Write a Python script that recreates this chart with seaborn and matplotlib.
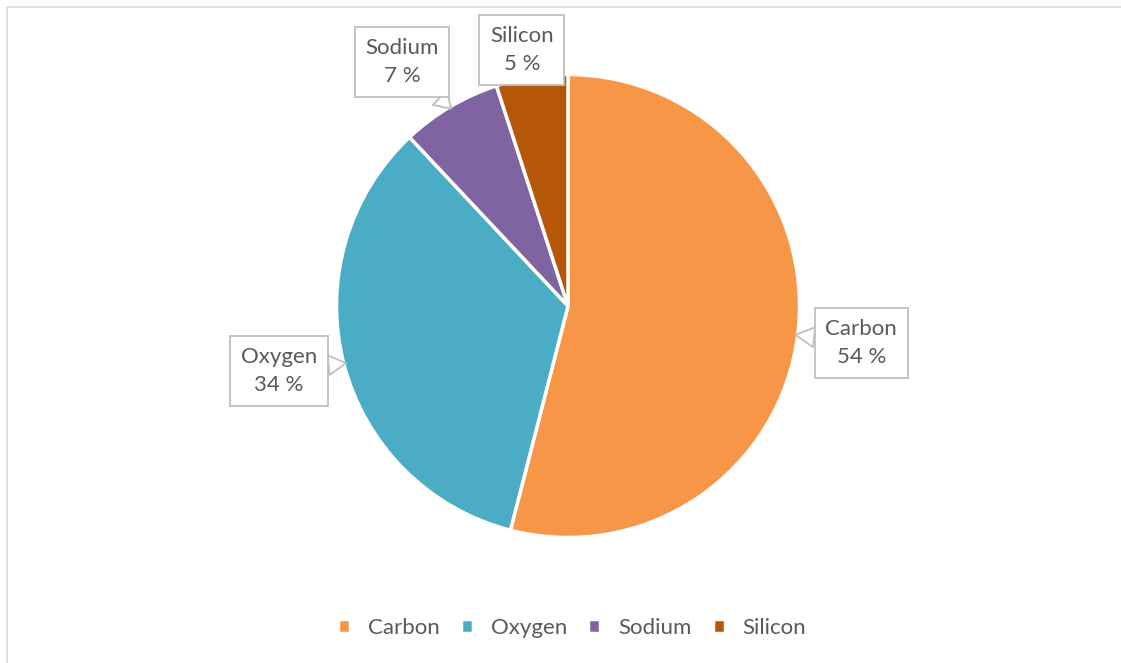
import numpy as np
import matplotlib
matplotlib.use("Agg")
import matplotlib.pyplot as plt
import seaborn as sns
from matplotlib.lines import Line2D

# data
elements = ["Carbon", "Oxygen", "Sodium", "Silicon"]
shares = [54, 34, 7, 5]
colors = ["#F79646", "#4BACC6", "#8064A2", "#B65708"]

# label box centres, in pie-radius units
label_xy = [(1.267, -0.160), (-1.248, -0.281), (-0.717, 1.054), (-0.199, 1.106)]

sns.set_theme(style="white")
plt.rcParams["font.family"] = ["Lato", "DejaVu Sans"]
text_col = "#595959"

W, H = 1121, 663
fig = plt.figure(figsize=(W / 100, H / 100), dpi=100)
ax = fig.add_axes([0, 0, 1, 1])
cx, cy, r = 568, 306, 231.5

wedges, _ = ax.pie(shares, colors=colors, startangle=90, counterclock=False,
                   radius=1, center=(0, 0), frame=False,
                   wedgeprops=dict(edgecolor="white", linewidth=2.5))
ax.set_xlim(-cx / r, (W - cx) / r)
ax.set_ylim(-(H - cy) / r, cy / r)
ax.axis("off")

for w, name, val, (lx, ly) in zip(wedges, elements, shares, label_xy):
    mid = np.deg2rad((w.theta1 + w.theta2) / 2)
    tip = (0.99 * np.cos(mid), 0.99 * np.sin(mid))
    ax.annotate(f"{name}\n{val} %", xy=tip, xytext=(lx, ly),
                ha="center", va="center", fontsize=16, color=text_col,
                linespacing=1.55,
                bbox=dict(boxstyle="square,pad=0.48", fc="white", ec="#BFBFBF", lw=1.3),
                arrowprops=dict(arrowstyle="wedge,tail_width=0.9,shrink_factor=0.5",
                                fc="white", ec="#BFBFBF", lw=1.3,
                                shrinkA=0, shrinkB=0))

leg = ax.legend(wedges, elements, loc="center", bbox_to_anchor=(572 / W, 1 - 628 / H),
                bbox_transform=fig.transFigure, ncol=4, frameon=False,
                handlelength=0.55, handleheight=0.55, handletextpad=0.8,
                columnspacing=0.95, fontsize=16)
for t in leg.get_texts():
    t.set_color(text_col)

# chart area border (top and left visible)
fig.add_artist(Line2D([8 / W, 1], [1 - 7 / H, 1 - 7 / H], transform=fig.transFigure,
                      color="#D9D9D9", lw=1.2))
fig.add_artist(Line2D([7 / W, 7 / W], [0, 1 - 7 / H], transform=fig.transFigure,
                      color="#D9D9D9", lw=1.2))

fig.savefig("out.png", dpi=100, facecolor="white")
